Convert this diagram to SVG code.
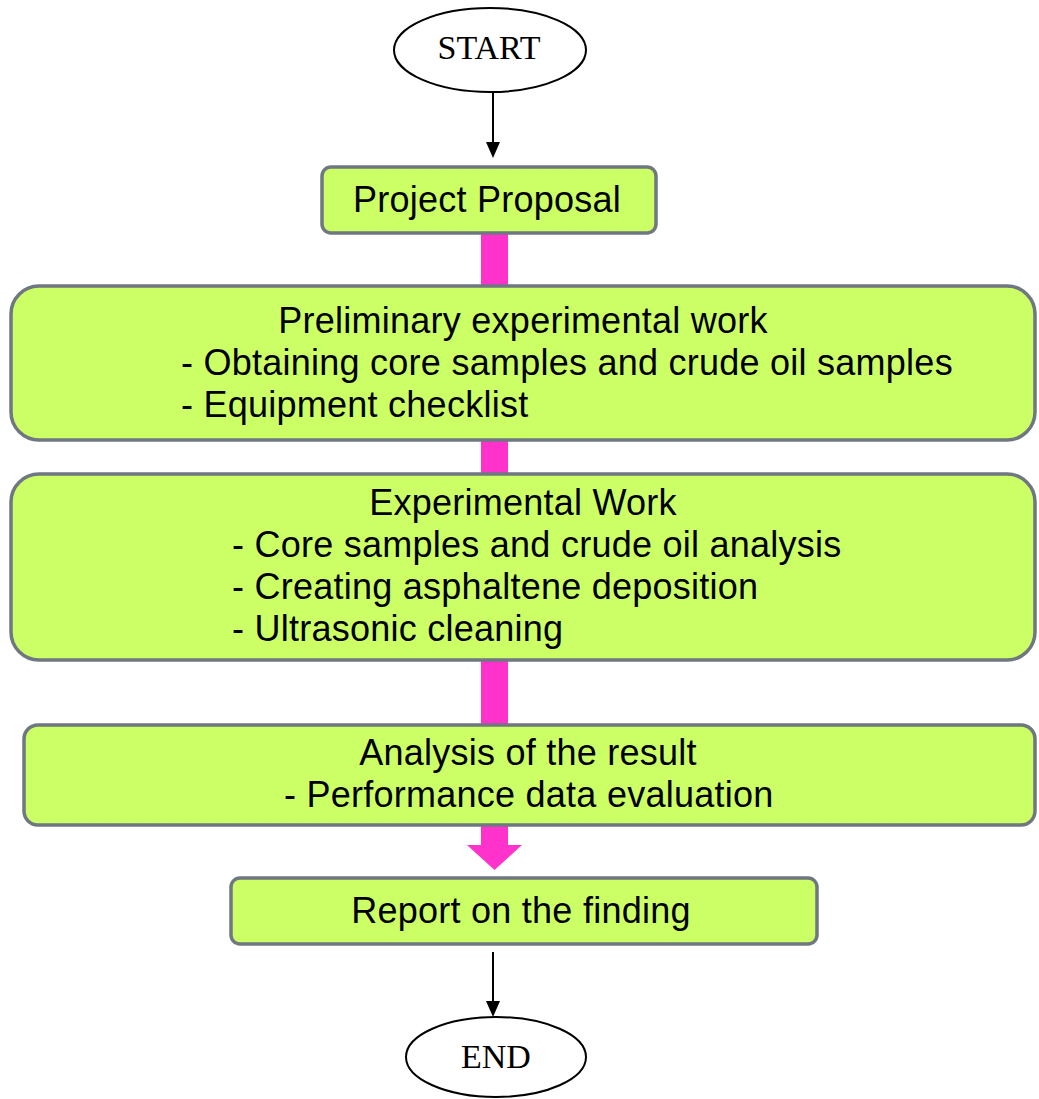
<svg xmlns="http://www.w3.org/2000/svg" width="1039" height="1099" viewBox="0 0 1039 1099">
<defs>
<style>
.box{fill:#ccff66;stroke:#6f7780;stroke-width:3.5}
.term{fill:#fff;stroke:#000;stroke-width:2}
.t{font-family:"Liberation Sans",Arial,sans-serif;font-size:36px;letter-spacing:0.25px;fill:#000}
.s{font-family:"Liberation Serif","Times New Roman",serif;font-size:34px;fill:#000}
.pink{fill:#ff33cc}
.line{stroke:#000;stroke-width:2;fill:none}
</style>
</defs>
<rect width="1039" height="1099" fill="#fff"/>
<g id="connectors">
<rect class="pink" x="481" y="233" width="27" height="54"/>
<rect class="pink" x="481" y="440" width="27" height="34"/>
<rect class="pink" x="481" y="660" width="27" height="65"/>
<path class="pink" d="M481,825 L508,825 L508,845 L522,845 L494.5,870 L467,845 L481,845 Z"/>
<line class="line" x1="493" y1="92" x2="493" y2="144"/>
<path d="M486,142 L500,142 L493,158 Z" fill="#000"/>
<line class="line" x1="493" y1="952" x2="493" y2="1003"/>
<path d="M486,1001 L500,1001 L493,1017 Z" fill="#000"/>
</g>
<g id="start">
<ellipse class="term" cx="490" cy="50" rx="96" ry="42"/>
<text class="s" x="489" y="59" text-anchor="middle">START</text>
</g>
<g id="proposal">
<rect class="box" x="322" y="167" width="334" height="66" rx="9"/>
<text class="t" x="487" y="212" text-anchor="middle">Project Proposal</text>
</g>
<g id="preliminary">
<rect class="box" x="11" y="286" width="1024" height="154" rx="28"/>
<text class="t" x="523" y="333" text-anchor="middle">Preliminary experimental work</text>
<text class="t" x="181" y="375">- Obtaining core samples and crude oil samples</text>
<text class="t" x="181" y="417">- Equipment checklist</text>
</g>
<g id="experimental">
<rect class="box" x="11" y="474" width="1024" height="186" rx="28"/>
<text class="t" x="523" y="515" text-anchor="middle">Experimental Work</text>
<text class="t" x="232" y="557">- Core samples and crude oil analysis</text>
<text class="t" x="232" y="599">- Creating asphaltene deposition</text>
<text class="t" x="232" y="641">- Ultrasonic cleaning</text>
</g>
<g id="analysis">
<rect class="box" x="24" y="725" width="1011" height="100" rx="14"/>
<text class="t" x="528" y="765" text-anchor="middle">Analysis of the result</text>
<text class="t" x="284" y="807">- Performance data evaluation</text>
</g>
<g id="report">
<rect class="box" x="231" y="878" width="586" height="66" rx="9"/>
<text class="t" x="521" y="923" text-anchor="middle">Report on the finding</text>
</g>
<g id="end">
<ellipse class="term" cx="496" cy="1057" rx="90" ry="40"/>
<text class="s" x="496" y="1068" text-anchor="middle">END</text>
</g>
</svg>
